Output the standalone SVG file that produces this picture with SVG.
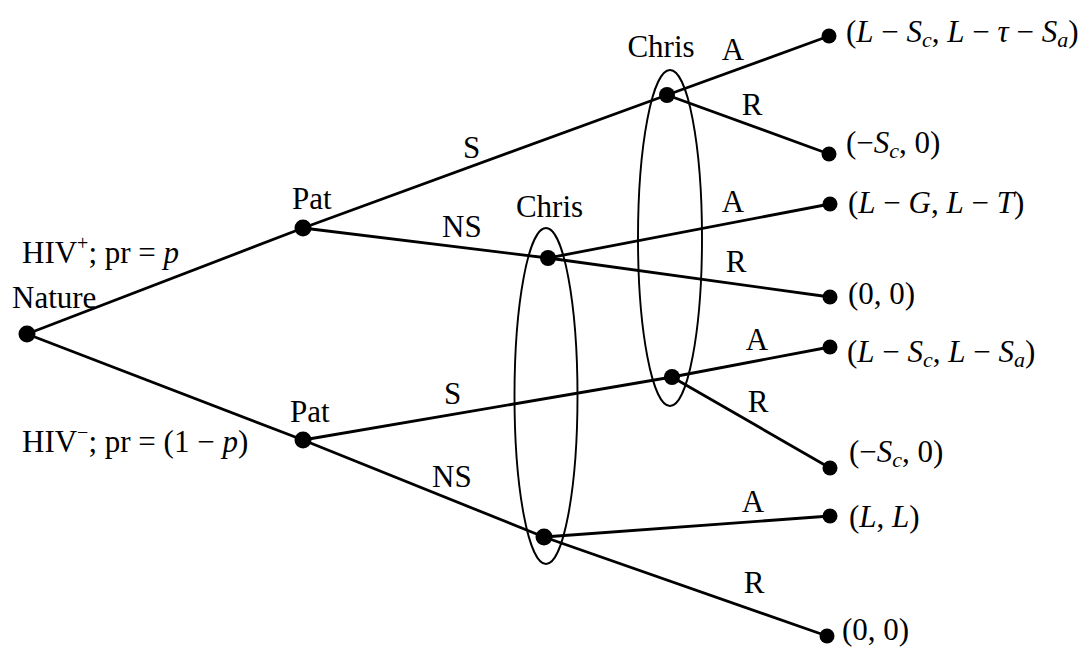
<svg xmlns="http://www.w3.org/2000/svg" width="1086" height="648" viewBox="0 0 1086 648">
<style>
text{font-family:"Liberation Serif","Times New Roman",serif;font-size:31px;fill:#000}
.m{text-anchor:middle}
.i{font-style:italic}
.sub{font-size:22px;font-style:italic}
.sup{font-size:20px}
.e{stroke:#000;stroke-width:2.8;fill:none}
.set{stroke:#000;stroke-width:1.9;fill:none}
.d{fill:#000}
</style>
<rect width="1086" height="648" fill="#fff"/>
<g id="connectors">
<line class="e" x1="27" y1="334" x2="303" y2="228"/>
<line class="e" x1="27" y1="334" x2="303" y2="440"/>
<line class="e" x1="303" y1="228" x2="667" y2="95"/>
<line class="e" x1="303" y1="228" x2="548" y2="258"/>
<line class="e" x1="303" y1="440" x2="672" y2="377"/>
<line class="e" x1="303" y1="440" x2="544" y2="537"/>
<line class="e" x1="667" y1="95" x2="829" y2="36"/>
<line class="e" x1="667" y1="95" x2="829" y2="154"/>
<line class="e" x1="548" y1="258" x2="830" y2="204"/>
<line class="e" x1="548" y1="258" x2="830" y2="297"/>
<line class="e" x1="672" y1="377" x2="830" y2="347"/>
<line class="e" x1="672" y1="377" x2="830" y2="468"/>
<line class="e" x1="544" y1="537" x2="830" y2="516"/>
<line class="e" x1="544" y1="537" x2="827" y2="636"/>
<text x="463" y="158">S</text>
<text x="442" y="237">NS</text>
<text x="444" y="404">S</text>
<text x="432" y="487">NS</text>
<text class="m" x="733" y="60">A</text>
<text class="m" x="752" y="115">R</text>
<text class="m" x="733" y="212">A</text>
<text class="m" x="736" y="272">R</text>
<text class="m" x="757" y="350">A</text>
<text class="m" x="758" y="412">R</text>
<text class="m" x="753" y="512">A</text>
<text class="m" x="754" y="593">R</text>
<text x="22" y="263">HIV<tspan class="sup" dy="-13">+</tspan><tspan dy="13">; pr = </tspan><tspan class="i">p</tspan></text>
<text x="22" y="452">HIV<tspan class="sup" dy="-13">−</tspan><tspan dy="13">; pr = (1 − </tspan><tspan class="i">p</tspan>)</text>
</g>
<g id="info-sets">
<ellipse class="set" cx="670" cy="238" rx="32" ry="168"/>
<ellipse class="set" cx="546" cy="396" rx="31.5" ry="168"/>
</g>
<g id="nature"><circle class="d" cx="27" cy="334" r="8.5"/><text x="12" y="308">Nature</text></g>
<g id="pat-top"><circle class="d" cx="303" cy="228" r="8.5"/><text x="292" y="209">Pat</text></g>
<g id="pat-bottom"><circle class="d" cx="303" cy="440" r="8.5"/><text x="290" y="422">Pat</text></g>
<g id="chris-r-top"><circle class="d" cx="667" cy="95" r="8"/><text class="m" x="661" y="57">Chris</text></g>
<g id="chris-m-top"><circle class="d" cx="548" cy="258" r="8"/><text class="m" x="549.5" y="217">Chris</text></g>
<g id="chris-r-bottom"><circle class="d" cx="672" cy="377" r="8"/></g>
<g id="chris-m-bottom"><circle class="d" cx="544" cy="537" r="8.5"/></g>
<g id="t1"><circle class="d" cx="829" cy="36" r="7.5"/><text x="846" y="42">(<tspan class="i">L</tspan> − <tspan class="i">S</tspan><tspan class="sub" dy="5">c</tspan><tspan dy="-5">, </tspan><tspan class="i">L</tspan> − <tspan class="i">τ</tspan> − <tspan class="i">S</tspan><tspan class="sub" dy="5">a</tspan><tspan dy="-5">)</tspan></text></g>
<g id="t2"><circle class="d" cx="829" cy="154" r="7.5"/><text x="846" y="153">(−<tspan class="i">S</tspan><tspan class="sub" dy="5">c</tspan><tspan dy="-5">, 0)</tspan></text></g>
<g id="t3"><circle class="d" cx="830" cy="204" r="7.5"/><text x="848" y="213">(<tspan class="i">L</tspan> − <tspan class="i">G</tspan>, <tspan class="i">L</tspan> − <tspan class="i">T</tspan>)</text></g>
<g id="t4"><circle class="d" cx="830" cy="297" r="7.5"/><text x="848" y="304">(0, 0)</text></g>
<g id="t5"><circle class="d" cx="830" cy="347" r="7.5"/><text x="847" y="362">(<tspan class="i">L</tspan> − <tspan class="i">S</tspan><tspan class="sub" dy="5">c</tspan><tspan dy="-5">, </tspan><tspan class="i">L</tspan> − <tspan class="i">S</tspan><tspan class="sub" dy="5">a</tspan><tspan dy="-5">)</tspan></text></g>
<g id="t6"><circle class="d" cx="830" cy="468" r="7.5"/><text x="849" y="462">(−<tspan class="i">S</tspan><tspan class="sub" dy="5">c</tspan><tspan dy="-5">, 0)</tspan></text></g>
<g id="t7"><circle class="d" cx="830" cy="516" r="7.5"/><text x="849" y="527">(<tspan class="i">L</tspan>, <tspan class="i">L</tspan>)</text></g>
<g id="t8"><circle class="d" cx="827" cy="636" r="7.5"/><text x="842" y="640">(0, 0)</text></g>
</svg>
